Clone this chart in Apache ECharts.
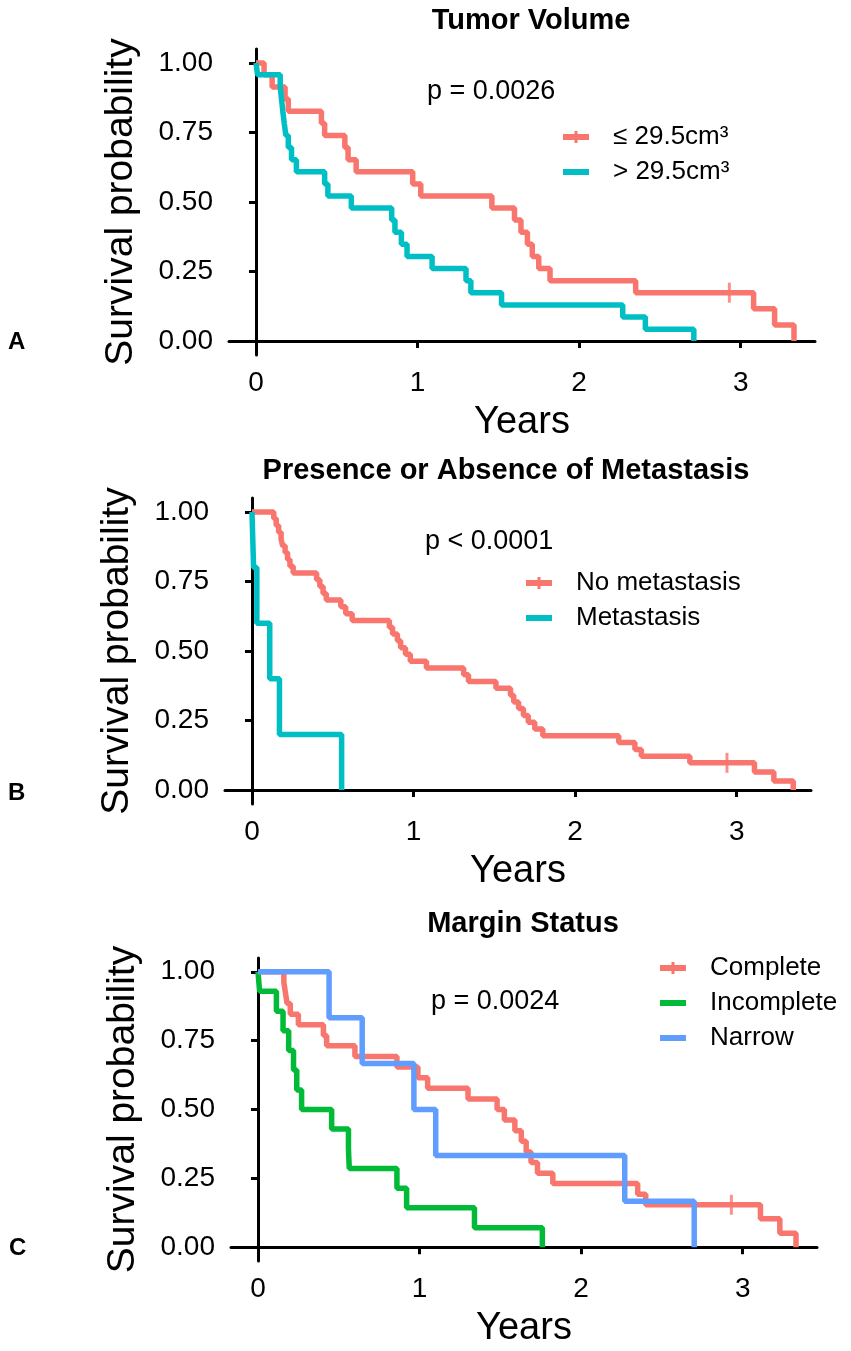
<!DOCTYPE html>
<html>
<head>
<meta charset="utf-8">
<script src="https://cdn.jsdelivr.net/npm/echarts@6/dist/echarts.min.js"></script>
<style>
  html, body { margin: 0; padding: 0; background: #fff; }
  #chart { width: 851px; height: 1351px; }
</style>
</head>
<body>
<div id="chart"></div>
<script>
// tick values shared by the three panels
var xTicks = [0, 1, 2, 3];
var yTicks = [0, 0.25, 0.5, 0.75, 1];

// A: tumor volume
var aRedT = [0, 0.05, 0.10, 0.18, 0.20, 0.405, 0.425, 0.55, 0.57, 0.62, 0.97, 1.02, 1.46, 1.60, 1.64, 1.68, 1.71, 1.75, 1.82, 2.35, 3.08, 3.21, 3.33];
var aRedS = [1, 0.957, 0.913, 0.870, 0.826, 0.783, 0.739, 0.696, 0.652, 0.609, 0.565, 0.522, 0.478, 0.435, 0.391, 0.348, 0.304, 0.261, 0.217, 0.174, 0.116, 0.058, 0];
var aRedCensor = [[2.93, 0.174]];
var aTealT = [0, 0.01, 0.15, 0.158, 0.166, 0.175, 0.185, 0.20, 0.22, 0.25, 0.425, 0.445, 0.59, 0.84, 0.86, 0.90, 0.935, 1.09, 1.30, 1.33, 1.52, 2.27, 2.41, 2.71];
var aTealS = [1, 0.957, 0.913, 0.870, 0.826, 0.783, 0.739, 0.696, 0.652, 0.609, 0.565, 0.522, 0.478, 0.435, 0.391, 0.348, 0.304, 0.261, 0.217, 0.174, 0.130, 0.087, 0.043, 0];

// B: metastasis
var bRedT = [0, 0.135, 0.15, 0.165, 0.18, 0.19, 0.205, 0.22, 0.235, 0.255, 0.40, 0.42, 0.44, 0.46, 0.55, 0.58, 0.62, 0.85, 0.87, 0.90, 0.92, 0.95, 0.98, 1.08, 1.31, 1.34, 1.51, 1.60, 1.62, 1.65, 1.68, 1.71, 1.75, 1.80, 2.27, 2.37, 2.41, 2.71, 3.11, 3.23, 3.35];
var bRedS = [1, 0.976, 0.951, 0.927, 0.902, 0.878, 0.854, 0.829, 0.805, 0.780, 0.756, 0.732, 0.707, 0.683, 0.659, 0.634, 0.610, 0.585, 0.561, 0.537, 0.512, 0.488, 0.463, 0.439, 0.415, 0.390, 0.366, 0.341, 0.317, 0.293, 0.268, 0.244, 0.220, 0.195, 0.171, 0.146, 0.122, 0.098, 0.065, 0.033, 0];
var bRedCensor = [[2.94, 0.098]];
var bTealT = [0, 0.01, 0.03, 0.11, 0.17, 0.555];
var bTealS = [1, 0.8, 0.6, 0.4, 0.2, 0];

// C: margin status
var cRedT = [0, 0.16, 0.17, 0.18, 0.20, 0.25, 0.405, 0.425, 0.60, 0.86, 0.99, 1.05, 1.30, 1.48, 1.525, 1.59, 1.63, 1.66, 1.69, 1.73, 1.825, 2.35, 2.40, 3.11, 3.23, 3.33];
var cRedS = [1, 0.962, 0.923, 0.885, 0.846, 0.808, 0.769, 0.731, 0.692, 0.654, 0.615, 0.577, 0.538, 0.500, 0.462, 0.423, 0.385, 0.346, 0.308, 0.269, 0.231, 0.192, 0.154, 0.103, 0.051, 0];
var cRedCensor = [[2.93, 0.154]];
var cGreenT = [0, 0.01, 0.114, 0.155, 0.19, 0.22, 0.24, 0.27, 0.456, 0.56, 0.565, 0.86, 0.92, 1.34, 1.76];
var cGreenS = [1, 0.929, 0.857, 0.786, 0.714, 0.643, 0.571, 0.500, 0.429, 0.357, 0.286, 0.214, 0.143, 0.071, 0];
var cBlueT = [0, 0.44, 0.645, 0.965, 1.10, 2.27, 2.70];
var cBlueS = [1, 0.833, 0.667, 0.500, 0.333, 0.167, 0];

var RED = '#F8766D', TEAL = '#00BFC4', GREEN = '#00BA38', BLUE = '#619CFF';
var FONT = 'Liberation Sans';

var crossIcon = 'path://M0,3 L11.5,3 L11.5,0 L14.5,0 L14.5,3 L26,3 L26,9 L14.5,9 L14.5,12 L11.5,12 L11.5,9 L0,9 Z';
var barIcon = 'path://M0,3 L26,3 L26,9 L0,9 Z M0,0 L0.01,0 L0.01,0.01 Z M0,12 L0.01,12 L0.01,11.99 Z';

var pairs = function(t, s) {
    return t.map((v, i) => [v, s[i]]);
};

var grids = [
    {left: 229, top: 49, width: 586, height: 306},
    {left: 225, top: 498, width: 586, height: 306},
    {left: 231, top: 958, width: 586, height: 303}
];

var makeX = function(i) {
    return {
        type: 'value', gridIndex: i, min: -0.167, max: 3.46,
        name: 'Years', nameLocation: 'middle', nameGap: 49,
        nameTextStyle: {fontFamily: FONT, fontSize: 38, color: '#000'},
        axisLine: {show: true, lineStyle: {color: '#000', width: 3}},
        axisTick: {show: true, length: 7, lineStyle: {color: '#000', width: 3}, customValues: xTicks},
        axisLabel: {fontFamily: FONT, fontSize: 28, color: '#000', margin: 14, customValues: xTicks},
        splitLine: {show: false}
    };
};

var makeY = function(i) {
    return {
        type: 'value', gridIndex: i, min: -0.05, max: 1.05,
        name: 'Survival probability', nameLocation: 'middle', nameGap: 88,
        nameTextStyle: {fontFamily: FONT, fontSize: 39, color: '#000'},
        axisLine: {show: true, lineStyle: {color: '#000', width: 3}},
        axisTick: {show: true, length: 7, lineStyle: {color: '#000', width: 3}, customValues: yTicks},
        axisLabel: {fontFamily: FONT, fontSize: 28, color: '#000', margin: 16, customValues: yTicks,
            formatter: v => v.toFixed(2)},
        splitLine: {show: false}
    };
};

var curve = function(name, t, s, color, i) {
    return {
        name: name, type: 'line', step: 'end', xAxisIndex: i, yAxisIndex: i,
        data: pairs(t, s), showSymbol: false, symbol: 'none',
        lineStyle: {color: color, width: 5.5}, itemStyle: {color: color},
        silent: true
    };
};

var censor = function(pts, color, i) {
    return {
        name: 'censor' + i, type: 'scatter', xAxisIndex: i, yAxisIndex: i,
        data: pts, symbol: 'rect', symbolSize: [3, 20],
        itemStyle: {color: color}, silent: true
    };
};

var legendStyle = {fontFamily: FONT, fontSize: 26, color: '#000', lineHeight: 26, padding: [0, 0, 0, 19]};

var makeLegend = function(items, left, top) {
    return {
        orient: 'vertical', left: left, top: top, itemWidth: 26, itemHeight: 12, itemGap: 9,
        selectedMode: false, padding: 0, textStyle: legendStyle, data: items
    };
};

var text = function(str, left, top, size, bold, align) {
    return {
        text: str, left: left, top: top, padding: 0, textAlign: align || 'left',
        textStyle: {fontFamily: FONT, fontSize: size, fontWeight: bold ? 'bold' : 'normal', color: '#000'}
    };
};

var option = {
    animation: false,
    backgroundColor: '#fff',
    title: [
        text('Tumor Volume', 531, 6, 29, true, 'center'),
        text('Presence or Absence of Metastasis', 506, 456, 29, true, 'center'),
        text('Margin Status', 523, 909, 29, true, 'center'),
        text('p = 0.0026', 427, 78, 27),
        text('p < 0.0001', 425, 528, 27),
        text('p = 0.0024', 431, 988, 27),
        text('A', 8, 330, 24, true),
        text('B', 8, 781, 24, true),
        text('C', 9, 1236, 24, true)
    ],
    legend: [
        makeLegend([{name: '≤ 29.5cm³', icon: crossIcon}, {name: '> 29.5cm³', icon: barIcon}], 563, 124),
        makeLegend([{name: 'No metastasis', icon: crossIcon}, {name: 'Metastasis', icon: barIcon}], 526, 570),
        makeLegend([{name: 'Complete', icon: crossIcon}, {name: 'Incomplete', icon: barIcon}, {name: 'Narrow', icon: barIcon}], 660, 955)
    ],
    grid: grids,
    xAxis: [makeX(0), makeX(1), makeX(2)],
    yAxis: [makeY(0), makeY(1), makeY(2)],
    series: [
        curve('≤ 29.5cm³', aRedT, aRedS, RED, 0),
        censor(aRedCensor, RED, 0),
        curve('> 29.5cm³', aTealT, aTealS, TEAL, 0),
        curve('No metastasis', bRedT, bRedS, RED, 1),
        censor(bRedCensor, RED, 1),
        curve('Metastasis', bTealT, bTealS, TEAL, 1),
        curve('Complete', cRedT, cRedS, RED, 2),
        censor(cRedCensor, RED, 2),
        curve('Incomplete', cGreenT, cGreenS, GREEN, 2),
        curve('Narrow', cBlueT, cBlueS, BLUE, 2)
    ]
};

var chart = echarts.init(document.getElementById('chart'));
chart.setOption(option);
</script>
</body>
</html>
